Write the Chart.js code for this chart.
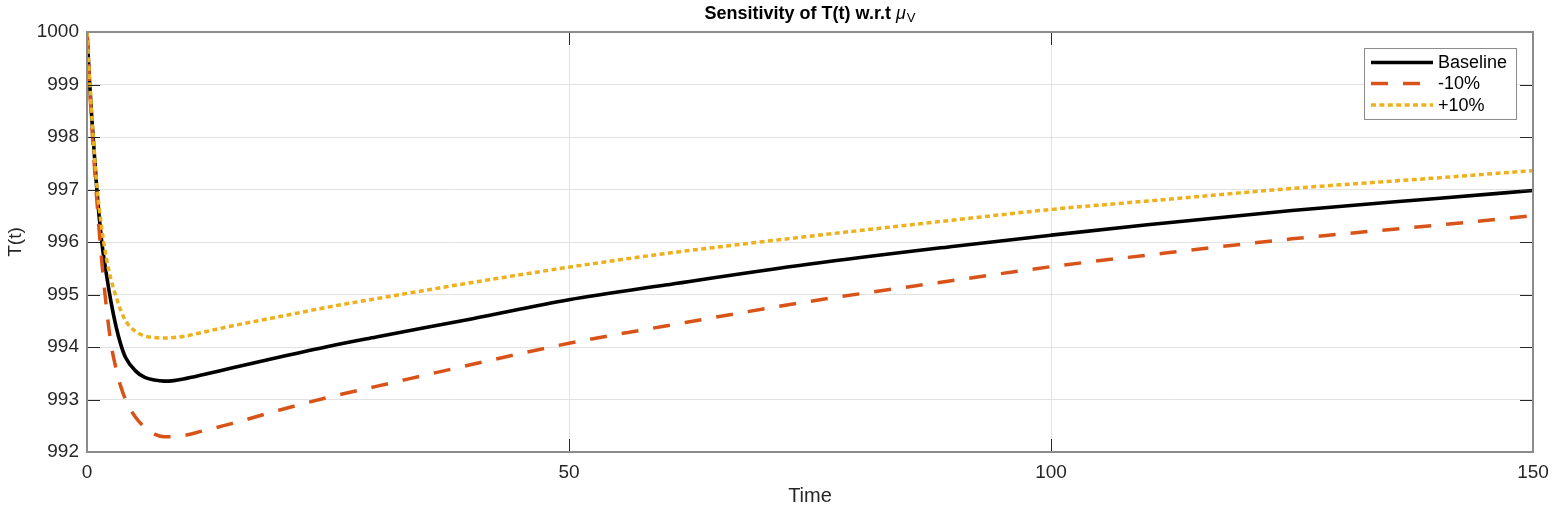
<!DOCTYPE html>
<html>
<head>
<meta charset="utf-8">
<script src="https://cdn.jsdelivr.net/npm/chart.js@4"></script>
<style>
html,body{margin:0;padding:0;background:#fff;}
#wrap{width:1552px;height:508px;}
</style>
</head>
<body>
<div id="wrap"><canvas id="c" width="1552" height="508"></canvas></div>
<script>
const times = [0,0.25,0.5,1,1.5,2,2.5,3,3.5,4,5,6,7,8,9,10,12,15,20,25,30,40,50,60,75,90,100,110,125,140,150];
const baseline = [1000,999.1,998.35,997.05,996.05,995.4,994.85,994.4,994.05,993.8,993.55,993.42,993.37,993.35,993.36,993.39,993.47,993.6,993.81,994.01,994.19,994.54,994.9,995.18,995.58,995.92,996.13,996.33,996.6,996.83,996.98];
const minus10 = [1000,999.05,998.2,996.85,995.7,994.78,994.05,993.6,993.25,993.0,992.67,992.47,992.34,992.29,992.29,992.31,992.4,992.54,992.8,993.04,993.25,993.67,994.07,994.4,994.87,995.27,995.53,995.75,996.06,996.32,996.5];
const plus10 = [1000,999.15,998.4,997.12,996.3,995.7,995.28,994.97,994.7,994.5,994.3,994.21,994.18,994.17,994.18,994.2,994.28,994.4,994.58,994.76,994.92,995.23,995.52,995.78,996.11,996.42,996.62,996.78,997.02,997.22,997.36];
const seriesLabels = ['Baseline','-10%','+10%'];
const xTicks = [0,50,100,150];
const yTicks = [992,993,994,995,996,997,998,999,1000];

const FONT = "'Liberation Sans', Arial, Helvetica, sans-serif";
const toPts = (ys) => times.map((t,i)=>({x:t,y:ys[i]}));

const titlePlugin = {
  id:'titlePlugin',
  afterDraw(chart){
    const ctx = chart.ctx, area = chart.chartArea;
    ctx.save();
    ctx.fillStyle = '#000';
    ctx.textBaseline = 'alphabetic';
    const main = 'Sensitivity of T(t) w.r.t ';
    const fMain = 'bold 18px ' + FONT;
    const fMu = 'italic 18px ' + FONT;
    const fSub = '13px ' + FONT;
    ctx.font = fMain; const w1 = ctx.measureText(main).width;
    ctx.font = fMu; const w2 = ctx.measureText('\u03BC').width;
    ctx.font = fSub; const w3 = ctx.measureText('V').width;
    const total = w1 + w2 + w3 + 1;
    let x = (area.left + area.right)/2 - total/2;
    const y = 19;
    ctx.textAlign = 'left';
    ctx.font = fMain; ctx.fillText(main, x, y); x += w1;
    ctx.font = fMu; ctx.fillText('\u03BC', x, y); x += w2 + 1;
    ctx.font = fSub; ctx.fillText('V', x, y + 3);
    ctx.restore();
  }
};

const framePlugin = {
  id:'framePlugin',
  afterDatasetsDraw(chart){
    const ctx = chart.ctx, a = chart.chartArea;
    const xs = chart.scales.x, ys = chart.scales.y;
    ctx.save();
    ctx.strokeStyle = '#262626';
    ctx.lineWidth = 1;
    const tl = 13;
    yTicks.forEach(v=>{
      const py = Math.round(ys.getPixelForValue(v)) + 0.5;
      ctx.beginPath();
      ctx.moveTo(a.left, py); ctx.lineTo(a.left + tl, py);
      ctx.moveTo(a.right, py); ctx.lineTo(a.right - tl, py);
      ctx.stroke();
    });
    xTicks.forEach(v=>{
      const px = Math.round(xs.getPixelForValue(v)) + 0.5;
      ctx.beginPath();
      ctx.moveTo(px, a.bottom); ctx.lineTo(px, a.bottom - tl);
      ctx.moveTo(px, a.top); ctx.lineTo(px, a.top + tl);
      ctx.stroke();
    });
    ctx.strokeStyle = '#8c8c8c';
    ctx.lineWidth = 2;
    ctx.strokeRect(a.left, a.top, a.right - a.left, a.bottom - a.top);
    ctx.restore();
  },
  afterDraw(chart){
    const ctx = chart.ctx;
    const bx = 1364, by = 48, bw = 152, bh = 71;
    ctx.save();
    ctx.fillStyle = '#fff';
    ctx.fillRect(bx, by, bw, bh);
    ctx.strokeStyle = '#8c8c8c';
    ctx.lineWidth = 1;
    ctx.strokeRect(bx + 0.5, by + 0.5, bw, bh);
    const rows = [62.5, 83.5, 105];
    chart.data.datasets.forEach((ds, i)=>{
      const ry = rows[i];
      ctx.beginPath();
      ctx.strokeStyle = ds.borderColor;
      ctx.lineWidth = ds.borderWidth;
      ctx.setLineDash(ds.borderDash || []);
      ctx.moveTo(1371, ry); ctx.lineTo(1433, ry);
      ctx.stroke();
      ctx.setLineDash([]);
      ctx.fillStyle = '#000';
      ctx.font = '18px ' + FONT;
      ctx.textBaseline = 'middle';
      ctx.textAlign = 'left';
      ctx.fillText(ds.label, 1438, ry + 1);
    });
    ctx.restore();
  }
};

new Chart(document.getElementById('c'), {
  type:'line',
  data:{
    datasets:[
      {label:seriesLabels[0], data:toPts(baseline), borderColor:'#000000', borderWidth:3.6, pointRadius:0, cubicInterpolationMode:'monotone', order:2, fill:false},
      {label:seriesLabels[1], data:toPts(minus10), borderColor:'#D95319', borderWidth:3.5, borderDash:[17,15], pointRadius:0, cubicInterpolationMode:'monotone', order:1, fill:false},
      {label:seriesLabels[2], data:toPts(plus10), borderColor:'#EDB120', borderWidth:3.5, borderDash:[5,3.4], pointRadius:0, cubicInterpolationMode:'monotone', order:0, fill:false}
    ]
  },
  options:{
    responsive:false,
    animation:false,
    events:[],
    layout:{padding:{top:32,right:19,left:0,bottom:0}},
    plugins:{legend:{display:false}, title:{display:false}, tooltip:{enabled:false}},
    scales:{
      x:{
        type:'linear', min:0, max:150,
        afterBuildTicks(s){ s.ticks = xTicks.map(v=>({value:v})); },
        afterFit(s){ s.height = 56; s.paddingRight = 0; s.paddingLeft = 0; },
        grid:{color:'#e2e2e2', lineWidth:1, drawTicks:false},
        border:{display:false},
        ticks:{padding:9, color:'#262626', font:{family:FONT, size:19}, maxRotation:0, callback:(v)=>String(v)},
        title:{display:true, text:'Time', color:'#262626', font:{family:FONT, size:20}, padding:{top:0,bottom:0}}
      },
      y:{
        type:'linear', min:992, max:1000,
        afterBuildTicks(s){ s.ticks = yTicks.map(v=>({value:v})); },
        afterFit(s){ s.width = 87; s.paddingTop = 0; s.paddingBottom = 0; },
        grid:{color:'#e2e2e2', lineWidth:1, drawTicks:false},
        border:{display:false},
        ticks:{padding:8, color:'#262626', font:{family:FONT, size:19}, callback:(v)=>String(v)},
        title:{display:true, text:'T(t)', color:'#262626', font:{family:FONT, size:19}, padding:{top:4,bottom:0}}
      }
    }
  },
  plugins:[titlePlugin, framePlugin]
});
</script>
</body>
</html>
